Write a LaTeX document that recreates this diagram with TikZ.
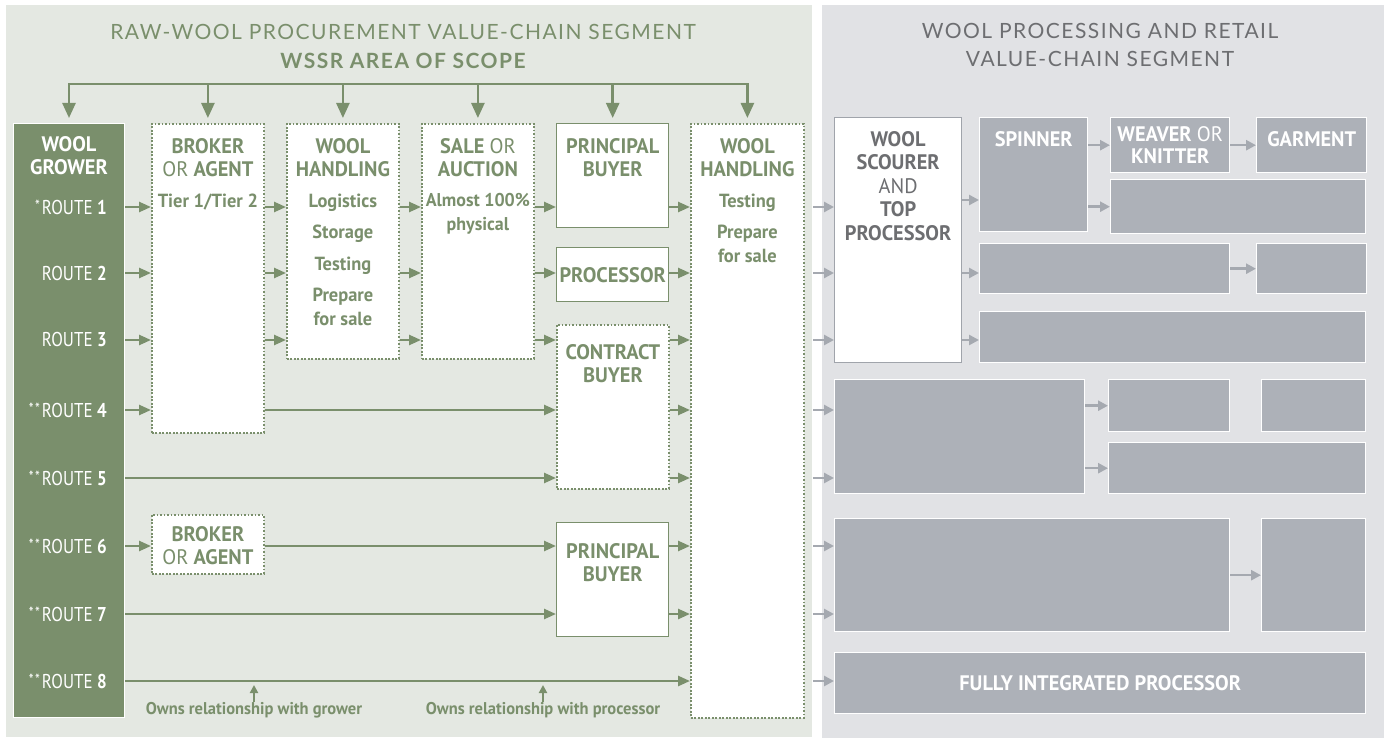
\documentclass[tikz,border=0pt]{standalone}
\usepackage{fontspec}
\setmainfont[FakeStretch=0.97]{PT Sans}
\newfontfamily\routefont[FakeStretch=0.85]{PT Sans}
\newfontfamily\headfont[LetterSpace=7.0]{Lato}
\usetikzlibrary{arrows.meta,positioning}
\definecolor{woolgreen}{RGB}{122,143,108}
\definecolor{woolback}{RGB}{228,232,226}
\definecolor{procback}{RGB}{225,226,229}
\definecolor{woolgray}{RGB}{173,177,184}
\definecolor{grayline}{RGB}{160,164,171}
\definecolor{graytext}{RGB}{109,110,113}
\definecolor{arrowgray}{RGB}{165,169,176}
\newcommand{\titlesize}{\fontsize{21}{23}\selectfont}
\newcommand{\itemsize}{\fontsize{19}{24}\selectfont}
\newcommand{\headsize}{\fontsize{21}{28}\selectfont}
\newcommand{\orword}[1]{{\mdseries #1}}
\newcommand{\routemark}[1]{\raisebox{3pt}{\fontsize{16}{16}\selectfont #1}\kern2pt}

\begin{document}
\begin{tikzpicture}[
    x=1pt, y=-1pt,
    growerbox/.style={rectangle, draw=white, fill=woolgreen, line width=1pt, anchor=north west, inner sep=0pt},
    dotbox/.style={rectangle, draw=woolgreen, fill=white, line width=1.8pt, dash pattern=on 1.8pt off 1.7pt, anchor=north west, inner sep=0pt},
    solidbox/.style={rectangle, draw=woolgreen, fill=white, line width=1.4pt, anchor=north west, inner sep=0pt},
    graybox/.style={rectangle, draw=white, fill=woolgray, line width=1.4pt, anchor=north west, inner sep=0pt},
    scourbox/.style={rectangle, draw=grayline, fill=white, line width=1.2pt, anchor=north west, inner sep=0pt},
    boxtext/.style={inner sep=0pt, align=center, text=woolgreen, font=\bfseries\titlesize},
    itemtext/.style={inner sep=0pt, align=center, text=woolgreen, font=\bfseries\itemsize},
    whitetext/.style={inner sep=0pt, align=center, text=white, font=\bfseries\titlesize},
    scourtext/.style={inner sep=0pt, align=center, text=graytext, font=\bfseries\titlesize},
    routetext/.style={inner sep=0pt, anchor=east, text=white, font=\routefont\fontsize{20}{22}\selectfont},
    owntext/.style={inner sep=0pt, text=woolgreen, font=\bfseries\fontsize{17}{19}\selectfont},
    headtext/.style={inner sep=0pt, align=center, text=woolgreen, font=\headfont\headsize},
    arrow/.style={-{Triangle[length=12pt,width=10pt]}, line width=2.5pt, woolgreen},
    busarrow/.style={-{Triangle[length=15pt,width=13pt]}, line width=2.5pt, woolgreen, shorten >=5pt},
    ownarrow/.style={-{Triangle[length=8pt,width=8pt]}, line width=2pt, woolgreen, shorten >=4pt},
    grayarrow/.style={-{Triangle[length=10pt,width=10pt]}, line width=2.5pt, arrowgray}
]
    \useasboundingbox (0,0) rectangle (1384,738);

    % Segment backgrounds
    \fill[woolback] (6,5) rectangle (812,737);
    \fill[procback] (822,5) rectangle (1384,738);

    % Headings
    \node[headtext] (rawhead) at (403,32) {RAW-WOOL PROCUREMENT VALUE-CHAIN SEGMENT};
    \node[headtext, font=\headfont\bfseries\headsize] (scopehead) at (403,61) {WSSR AREA OF SCOPE};
    \node[headtext, text=graytext] (prochead) at (1100,45) {WOOL PROCESSING AND RETAIL\\VALUE-CHAIN SEGMENT};

    % Raw-wool procurement boxes
    \node[growerbox, minimum width=111pt, minimum height=594pt] (grower) at (13,123) {};
    \node[dotbox, minimum width=112pt, minimum height=309pt] (broker) at (151,123) {};
    \node[dotbox, minimum width=112pt, minimum height=235pt] (handling) at (286,123) {};
    \node[dotbox, minimum width=112pt, minimum height=235pt] (sale) at (421,123) {};
    \node[solidbox, minimum width=112pt, minimum height=104pt] (principal) at (556,123) {};
    \node[solidbox, minimum width=112pt, minimum height=54pt] (processor) at (556,247) {};
    \node[dotbox, minimum width=112pt, minimum height=164pt] (contract) at (556,324) {};
    \node[solidbox, minimum width=112pt, minimum height=114pt] (principaltwo) at (556,522) {};
    \node[dotbox, minimum width=112pt, minimum height=59pt] (brokertwo) at (151,514) {};
    \node[dotbox, minimum width=113pt, minimum height=594pt] (handlingtwo) at (690,123) {};

    % Box texts
    \node[whitetext, below=13pt of grower.north] (growerlabel) {WOOL\\GROWER};
    \node[boxtext, below=15pt of broker.north] (brokerlabel) {BROKER\\\orword{OR} AGENT};
    \node[itemtext, below=17pt of brokerlabel] (brokeritems) {Tier 1/Tier 2};
    \node[boxtext, below=15pt of handling.north] (handlinglabel) {WOOL\\HANDLING};
    \node[itemtext, below=17pt of handlinglabel] (handlingitems) {Logistics\\[7.5pt]Storage\\[7.5pt]Testing\\[7.5pt]Prepare\\for sale};
    \node[boxtext, below=15pt of sale.north] (salelabel) {SALE \orword{OR}\\AUCTION};
    \node[itemtext, below=16pt of salelabel, font=\bfseries\fontsize{18.5}{24}\selectfont] (saleitems) {Almost 100\%\\physical};
    \node[boxtext, below=15pt of principal.north] (principallabel) {PRINCIPAL\\BUYER};
    \node[boxtext] (processorlabel) at (processor.center) {PROCESSOR};
    \node[boxtext, below=20pt of contract.north] (contractlabel) {CONTRACT\\BUYER};
    \node[boxtext, below=21pt of principaltwo.north] (principaltwolabel) {PRINCIPAL\\BUYER};
    \node[boxtext, below=12pt of brokertwo.north] (brokertwolabel) {BROKER\\\orword{OR} AGENT};
    \node[boxtext, below=15pt of handlingtwo.north] (handlingtwolabel) {WOOL\\HANDLING};
    \node[itemtext, below=17pt of handlingtwolabel] (handlingtwoitems) {Testing\\[7.5pt]Prepare\\for sale};

    % Routes
    \foreach \n/\y/\s in {1/207/*, 2/273/{}, 3/340/{}, 4/410/{*\kern1.5pt*}, 5/478/{*\kern1.5pt*}, 6/546/{*\kern1.5pt*}, 7/614/{*\kern1.5pt*}, 8/681/{*\kern1.5pt*}} {
        \coordinate (r\n) at (0,\y);
        \node[routetext] (route\n) at (107,\y) {\routemark{\s}ROUTE \textbf{\n}};
    }

    % Scope bus
    \coordinate (bus) at (0,84);
    \draw[woolgreen, line width=2.5pt, line cap=rect] (grower.north |- bus) -- (handlingtwo.north |- bus);
    \foreach \b in {grower,broker,handling,sale,principal,handlingtwo}
        \draw[busarrow] (\b.north |- bus) -- (\b.north);

    % Route connections
    \foreach \n in {1,2,3,4}
        \draw[arrow] (grower.east |- r\n) -- (broker.west |- r\n);
    \foreach \n in {1,2,3} {
        \draw[arrow] (broker.east |- r\n) -- (handling.west |- r\n);
        \draw[arrow] (handling.east |- r\n) -- (sale.west |- r\n);
    }
    \draw[arrow] (sale.east |- r1) -- (principal.west |- r1);
    \draw[arrow] (sale.east |- r2) -- (processor.west |- r2);
    \draw[arrow] (sale.east |- r3) -- (contract.west |- r3);
    \draw[arrow] (broker.east |- r4) -- (contract.west |- r4);
    \draw[arrow] (grower.east |- r5) -- (contract.west |- r5);
    \draw[arrow] (grower.east |- r6) -- (brokertwo.west |- r6);
    \draw[arrow] (brokertwo.east |- r6) -- (principaltwo.west |- r6);
    \draw[arrow] (grower.east |- r7) -- (principaltwo.west |- r7);
    \draw[arrow] (grower.east |- r8) -- (handlingtwo.west |- r8);

    % Into second wool handling
    \draw[arrow] (principal.east |- r1) -- (handlingtwo.west |- r1);
    \draw[arrow] (processor.east |- r2) -- (handlingtwo.west |- r2);
    \foreach \n in {3,4,5}
        \draw[arrow] (contract.east |- r\n) -- (handlingtwo.west |- r\n);
    \foreach \n in {6,7}
        \draw[arrow] (principaltwo.east |- r\n) -- (handlingtwo.west |- r\n);

    % Relationship notes
    \node[owntext] (ownsgrower) at (254,710) {Owns relationship with grower};
    \node[owntext] (ownsprocessor) at (543,710) {Owns relationship with processor};
    \draw[ownarrow] (ownsgrower.north) -- (ownsgrower.north |- r8);
    \draw[ownarrow] (ownsprocessor.north) -- (ownsprocessor.north |- r8);

    % Processing and retail boxes
    \node[scourbox, minimum width=127pt, minimum height=245pt] (scourer) at (834,117) {};
    \node[graybox, minimum width=108pt, minimum height=114pt] (spinner) at (979,117) {};
    \node[graybox, minimum width=119pt, minimum height=55pt] (weaver) at (1110,117) {};
    \node[graybox, minimum width=110pt, minimum height=55pt] (garment) at (1256,117) {};
    \node[graybox, minimum width=255pt, minimum height=54pt] (spinout) at (1110,179) {};
    \node[graybox, minimum width=250pt, minimum height=50pt] (topout) at (979,243) {};
    \node[graybox, minimum width=110pt, minimum height=50pt] (topend) at (1256,243) {};
    \node[graybox, minimum width=386pt, minimum height=51pt] (toprow) at (979,311) {};
    \node[graybox, minimum width=250pt, minimum height=114pt] (groupa) at (834,379) {};
    \node[graybox, minimum width=121pt, minimum height=52pt] (groupb) at (1108,379) {};
    \node[graybox, minimum width=104pt, minimum height=52pt] (groupc) at (1261,379) {};
    \node[graybox, minimum width=257pt, minimum height=51pt] (groupd) at (1108,442) {};
    \node[graybox, minimum width=395pt, minimum height=113pt] (groupe) at (834,518) {};
    \node[graybox, minimum width=104pt, minimum height=113pt] (groupf) at (1261,518) {};
    \node[graybox, minimum width=531pt, minimum height=61pt] (fully) at (834,652) {};

    \node[scourtext, below=14pt of scourer.north, font=\bfseries\fontsize{21}{23.5}\selectfont] (scourerlabel) {WOOL\\SCOURER\\\orword{AND}\\TOP\\PROCESSOR};
    \node[whitetext, below=14pt of spinner.north] (spinnerlabel) {SPINNER};
    \node[whitetext, below=9pt of weaver.north, font=\bfseries\fontsize{21}{22}\selectfont] (weaverlabel) {WEAVER \orword{OR}\\KNITTER};
    \node[whitetext, below=14pt of garment.north] (garmentlabel) {GARMENT};
    \node[whitetext] (fullylabel) at (fully.center) {FULLY INTEGRATED PROCESSOR};

    % Out of second wool handling
    \coordinate (spinin) at (0,200);
    \foreach \n in {1,2,3}
        \draw[grayarrow, shorten <=8pt] (handlingtwo.east |- r\n) -- (scourer.west |- r\n);
    \foreach \n in {4,5}
        \draw[grayarrow, shorten <=8pt] (handlingtwo.east |- r\n) -- (groupa.west |- r\n);
    \foreach \n in {6,7}
        \draw[grayarrow, shorten <=8pt] (handlingtwo.east |- r\n) -- (groupe.west |- r\n);
    \draw[grayarrow, shorten <=8pt] (handlingtwo.east |- r8) -- (fully.west |- r8);

    % Processing flow
    \draw[grayarrow] (scourer.east |- spinin) -- (spinner.west |- spinin);
    \draw[grayarrow] (scourer.east |- r2) -- (topout.west |- r2);
    \draw[grayarrow] (scourer.east |- r3) -- (toprow.west |- r3);
    \draw[grayarrow] (spinner.east |- weaver.west) -- (weaver.west);
    \draw[grayarrow] (weaver.east) -- (garment.west);
    \draw[grayarrow] (spinner.east |- spinout.west) -- (spinout.west);
    \draw[grayarrow] (topout.east) -- (topend.west);
    \draw[grayarrow] (groupa.east |- groupb.west) -- (groupb.west);
    \draw[grayarrow] (groupa.east |- groupd.west) -- (groupd.west);
    \draw[grayarrow] (groupe.east |- groupf.west) -- (groupf.west);
\end{tikzpicture}
\end{document}
